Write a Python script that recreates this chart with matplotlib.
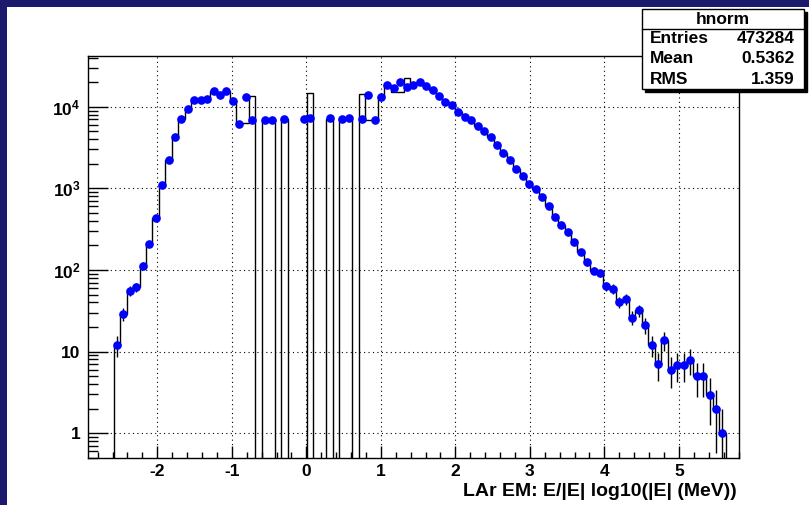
import numpy as np
import matplotlib.pyplot as plt
from matplotlib.patches import Rectangle
from matplotlib.lines import Line2D
from matplotlib.ticker import MultipleLocator, LogLocator, NullFormatter

plt.rcParams['font.family'] = ['Liberation Sans', 'DejaVu Sans']
plt.rcParams['font.weight'] = 'bold'
plt.rcParams['axes.unicode_minus'] = False
plt.rcParams['mathtext.fontset'] = 'custom'
plt.rcParams['mathtext.bf'] = 'Liberation Sans:bold'
plt.rcParams['mathtext.rm'] = 'Liberation Sans:bold'
plt.rcParams['mathtext.default'] = 'bf'

# histogram binning
x_min, x_max, n_bins = -2.93, 5.80, 101
first_bin = 4

# blue points (bins 4..98), 0 = empty bin
blue_vals = [12, 29, 56, 62, 113, 206, 429, 1107, 2222, 4217,
             7015, 9450, 12180, 12300, 12540, 15460, 13910, 15570, 11740, 6080,
             13040, 6810, 0, 6810, 6850, 0, 7000, 0, 0, 7120,
             7330, 0, 0, 7270, 0, 7120, 7270, 0, 7060, 14030,
             6850, 13260, 18700, 17000, 20000, 17300, 18300, 20100, 17800, 16000,
             13640, 11320, 10580, 8540, 7410, 6870, 5750, 5040, 4250, 3420,
             2730, 2240, 1710, 1430, 1130, 973, 782, 612, 445, 358,
             289, 222, 166, 124, 98, 91, 64, 59, 40.7, 44,
             26, 32, 21, 11.9, 7.0, 13.8, 6.0, 6.9, 6.9, 7.9,
             5.0, 5.0, 2.96, 1.97, 1.0]

# black outline histogram (bins 4..98)
black_vals = [12, 29, 56, 62, 113, 206, 429, 1107, 2222, 4217,
              7015, 9450, 12180, 12300, 12540, 15460, 13910, 15570, 11000, 6370,
              6370, 13600, 0, 6900, 6900, 0, 7000, 0, 0, 0,
              14600, 0, 0, 7100, 0, 7100, 7100, 0, 14300, 6850,
              6850, 13260, 18400, 15300, 15300, 22300, 18300, 20100, 17800, 16000,
              13640, 11320, 10580, 8540, 7410, 6870, 5750, 5040, 4250, 3420,
              2730, 2240, 1710, 1430, 1130, 973, 782, 612, 445, 358,
              289, 222, 166, 124, 98, 91, 64, 59, 40.7, 44,
              26, 32, 21, 11.9, 7.0, 13.8, 6.0, 6.9, 6.9, 7.9,
              5.0, 5.0, 2.96, 1.97, 1.0]

y_ticks = [1, 10, 100, 1000, 10000]
y_labels = ['1', '10', r'$\mathbf{10^{2}}$', r'$\mathbf{10^{3}}$', r'$\mathbf{10^{4}}$']

stat_title = 'hnorm'
stat_names = ['Entries', 'Mean', 'RMS']
stat_values = ['473284', '0.5362', '1.359']

edges = np.linspace(x_min, x_max, n_bins + 1)
centers = 0.5 * (edges[:-1] + edges[1:])
h_blue = np.zeros(n_bins)
h_blue[first_bin:first_bin + len(blue_vals)] = blue_vals
h_black = np.zeros(n_bins)
h_black[first_bin:first_bin + len(black_vals)] = black_vals

W, H = 809, 505
fig = plt.figure(figsize=(W / 100, H / 100), dpi=100)
fig.patch.set_facecolor('white')
ax = fig.add_axes([88 / W, 1 - 458 / H, (738.5 - 88) / W, (458 - 56) / H])

ax.stairs(np.where(h_black > 0, h_black, 1e-3), edges, color='k', lw=1,
          baseline=None, zorder=2)

m = h_blue > 0
yv = h_blue[m]
err = np.sqrt(yv)
lo = np.minimum(err, yv - 1e-3)
ax.errorbar(centers[m], yv, yerr=[lo, err], fmt='o', color='#0000ff',
            ms=5.2, mec='#0000ff', ecolor='k', elinewidth=1, capsize=0, zorder=3)

ax.set_yscale('log')
ax.set_xlim(x_min, x_max)
ax.set_ylim(0.495, 42000)
ax.set_yticks(y_ticks)
ax.set_yticklabels(y_labels)
ax.yaxis.set_minor_locator(LogLocator(base=10, subs=np.arange(2, 10)))
ax.yaxis.set_minor_formatter(NullFormatter())
ax.xaxis.set_major_locator(MultipleLocator(1))
ax.xaxis.set_minor_locator(MultipleLocator(0.2))

ax.tick_params(which='both', direction='in', top=False, right=False, colors='k')
ax.tick_params(axis='y', which='major', length=14.4, width=1, pad=5.5, labelsize=12.5)
ax.tick_params(axis='y', which='minor', length=7.2, width=1)
ax.tick_params(axis='x', which='major', length=8.6, width=1, pad=4, labelsize=12.5)
ax.tick_params(axis='x', which='minor', length=4.3, width=1)
for s in ax.spines.values():
    s.set_linewidth(1)
    s.set_color('k')
ax.grid(True, which='major', color='k', linestyle=(0, (1, 3)), linewidth=0.8)

fig.text(737 / W, 1 - 492 / H, 'LAr EM: E/|E| log10(|E| (MeV))',
         ha='right', va='center', fontsize=14, fontweight='bold')

# navy frame
navy = '#1c1a6c'
fig.patches.append(Rectangle((0, 1 - 7 / H), 1, 7 / H, transform=fig.transFigure,
                             fc=navy, ec='none', zorder=0))
fig.patches.append(Rectangle((0, 0), 7 / W, 1, transform=fig.transFigure,
                             fc=navy, ec='none', zorder=0))

# stats box
bx0, bx1, by0, by1 = 642, 804, 9, 89
fig.patches.append(Rectangle(((bx0 + 3) / W, 1 - (by1 + 3) / H), (bx1 - bx0) / W,
                             (by1 - by0) / H, transform=fig.transFigure,
                             fc='k', ec='k', zorder=5))
fig.patches.append(Rectangle((bx0 / W, 1 - by1 / H), (bx1 - bx0) / W,
                             (by1 - by0) / H, transform=fig.transFigure,
                             fc='white', ec='k', lw=1, zorder=6))
fig.lines.append(Line2D([bx0 / W, bx1 / W], [1 - 29.3 / H, 1 - 29.3 / H],
                        transform=fig.transFigure, color='k', lw=1, zorder=7))
fig.text((bx0 + bx1) / 2 / W, 1 - 19 / H, stat_title, ha='center', va='center',
         fontsize=12.5, fontweight='bold', zorder=8)
for i, (nm, val) in enumerate(zip(stat_names, stat_values)):
    yy = 1 - (38.5 + 20.3 * i) / H
    fig.text(650 / W, yy, nm, ha='left', va='center', fontsize=12.5,
             fontweight='bold', zorder=8)
    fig.text(795 / W, yy, val, ha='right', va='center', fontsize=12.5,
             fontweight='bold', zorder=8)

fig.savefig('out.png', dpi=100)
